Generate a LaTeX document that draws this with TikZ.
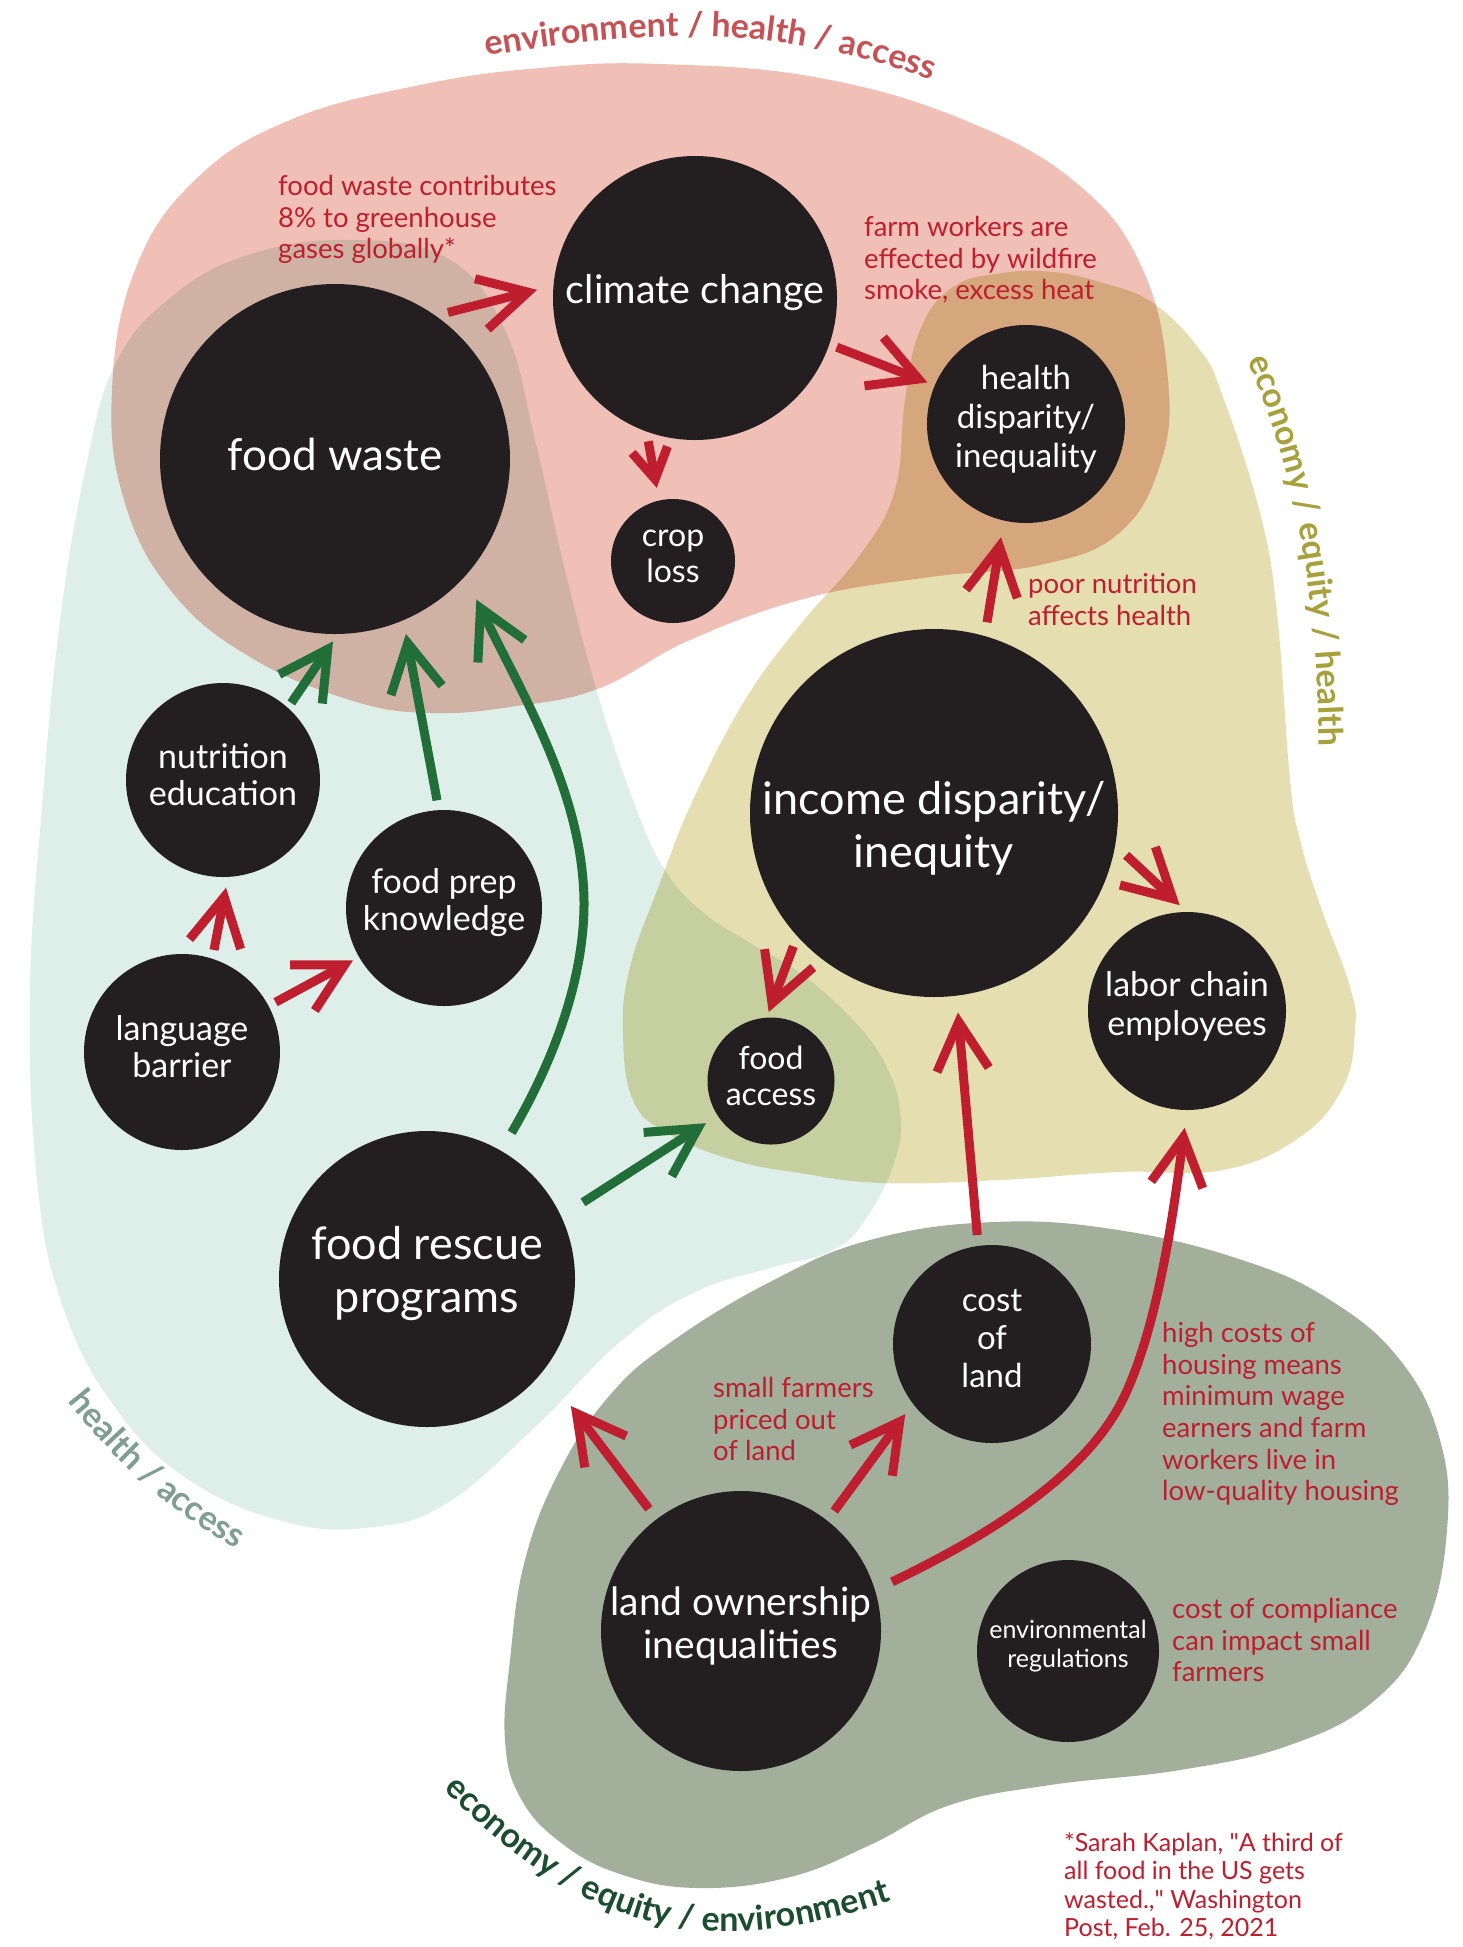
\documentclass[tikz,border=0pt]{standalone}
\usepackage{fontspec}
\setmainfont{Lato}
\usetikzlibrary{arrows.meta,decorations.text}

\definecolor{ink}{HTML}{231F20}
\definecolor{arrowred}{HTML}{BE1E2D}
\definecolor{arrowgreen}{HTML}{216E39}
\definecolor{blobpink}{HTML}{F0BFB5}
\definecolor{blobteal}{HTML}{DEEEE9}
\definecolor{blobyellow}{HTML}{E4DEB0}
\definecolor{blobgreen}{HTML}{A1AF9B}
\definecolor{titlered}{HTML}{C55254}
\definecolor{titleolive}{HTML}{A8A03A}
\definecolor{titleteal}{HTML}{7E9E93}
\definecolor{titlegreen}{HTML}{1B4D2E}

\newcommand{\notefont}{\fontsize{27.5}{31.7}\selectfont}
\newcommand{\footfont}{\fontsize{25}{28.5}\selectfont}
\newcommand{\titlefont}{\fontsize{34}{40}\selectfont\bfseries}

\begin{document}
\begin{tikzpicture}[x=1pt, y=-1pt]
	% Define styles for the bubbles, notes and arrows
	\tikzset{
		bubble/.style={circle, fill=ink, inner sep=0pt, outer sep=0pt, minimum size=#1},
		inlabel/.style 2 args={text=white, align=center, font=\fontsize{#1}{#2}\selectfont, yshift=5pt},
		note/.style={text=arrowred, align=left, anchor=north west, inner sep=0pt, font=\notefont},
		redlink/.style={draw=arrowred, line width=9pt, -{Straight Barb[sharp, length=48pt, width=52pt]}},
		greenlink/.style={redlink, draw=arrowgreen},
	}

	% Page size and background
	\useasboundingbox (0,0) rectangle (1463,1947);
	\fill[white] (0,0) rectangle (1463,1947);

	% Draw the four theme regions
	\begin{scope}[blend mode=multiply]
		\fill[blobteal] plot[smooth cycle, tension=0.7] coordinates {(348,240) (447,258) (505,330) (535,440) (565,570) (598,695) (633,800) (663,867) (700,910) (750,943) (800,973) (850,1017) (883,1060) (900,1110) (895,1160) (867,1217) (833,1250) (770,1268) (695,1292) (621,1341) (534,1428) (447,1503) (373,1527) (286,1522) (186,1478) (112,1403) (62,1304) (37,1180) (30,994) (42,807) (60,621) (85,472) (115,365) (170,298) (248,255)};
		\fill[blobpink] plot[smooth cycle, tension=0.7] coordinates {(660,64) (820,78) (969,122) (1080,186) (1143,270) (1168,380) (1160,465) (1118,534) (1040,565) (930,577) (807,598) (690,640) (600,688) (517,706) (430,713) (350,700) (250,657) (172,592) (124,500) (112,390) (135,270) (195,180) (290,120) (420,85) (540,68)};
		\fill[blobyellow] plot[smooth cycle, tension=0.7] coordinates {(920,330) (953,287) (1003,273) (1053,272) (1103,283) (1153,303) (1200,350) (1223,397) (1260,513) (1277,613) (1290,780) (1300,840) (1320,905) (1350,987) (1355,1030) (1343,1087) (1300,1137) (1223,1170) (1118,1172) (1000,1180) (883,1183) (800,1173) (733,1160) (667,1133) (633,1100) (623,1033) (630,967) (660,883) (693,800) (745,700) (800,625) (860,555) (895,490) (905,400)};
		\fill[blobgreen] plot[smooth cycle, tension=0.7] coordinates {(994,1222) (1118,1230) (1242,1260) (1330,1300) (1400,1360) (1440,1440) (1447,1530) (1425,1630) (1375,1700) (1290,1745) (1180,1770) (1050,1785) (950,1805) (870,1845) (790,1877) (698,1888) (620,1874) (560,1842) (520,1797) (505,1740) (510,1660) (525,1560) (560,1470) (610,1395) (671,1342) (770,1282) (870,1240)};
	\end{scope}

	% Region titles along curved paths
	\path[decorate, decoration={text along path, text align=center, text color=titlered,
		text={|\titlefont|environment / health / access}}]
		(462,60) .. controls (650,28) and (770,20) .. (955,88);
	\path[decorate, decoration={text along path, text align=center, text color=titleolive,
		text={|\titlefont|economy / equity / health}}]
		(1234,330) .. controls (1290,450) and (1318,560) .. (1320,780);
	\path[decorate, decoration={text along path, text align=center, text color=titleteal,
		text={|\titlefont|health / access}}]
		(50,1378) .. controls (108,1457) and (172,1518) .. (262,1562);
	\path[decorate, decoration={text along path, text align=center, text color=titlegreen,
		text={|\titlefont|economy / equity / environment}}]
		(426,1772) .. controls (590,1944) and (717,1963) .. (915,1893);

	% Draw the bubbles
	\node[bubble=350pt, label={[inlabel={44}{54}]center:food waste}] (fw) at (335,459) {};
	\node[bubble=284pt, label={[inlabel={39.5}{46}]center:climate change}] (cc) at (695,298) {};
	\node[bubble=124pt, label={[inlabel={32}{36}]center:crop\\loss}] (crop) at (673,561) {};
	\node[bubble=198pt, label={[inlabel={33}{39}]center:health\\disparity/\\inequality}] (hd) at (1026,424) {};
	\node[bubble=194pt, label={[inlabel={34}{37}]center:nutrition\\education}] (ne) at (223,780) {};
	\node[bubble=196pt, label={[inlabel={34}{37}]center:food prep\\knowledge}] (fp) at (444,908) {};
	\node[bubble=196pt, label={[inlabel={34}{37}]center:language\\barrier}] (lb) at (182,1052) {};
	\node[bubble=368pt, label={[inlabel={45}{53}, yshift=-20pt]center:income disparity/\\inequity}] (inc) at (934,813) {};
	\node[bubble=127pt, label={[inlabel={32}{36}]center:food\\access}] (fa) at (771,1081) {};
	\node[bubble=198pt, label={[inlabel={34}{39}]center:labor chain\\employees}] (lab) at (1187,1011) {};
	\node[bubble=296pt, label={[inlabel={45}{53}]center:food rescue\\programs}] (fr) at (427,1279) {};
	\node[bubble=198pt, label={[inlabel={33}{38}]center:cost\\of\\land}] (col) at (992,1344) {};
	\node[bubble=280pt, label={[inlabel={39}{43}]center:land ownership\\inequalities}] (lo) at (741,1631) {};
	\node[bubble=182pt, label={[inlabel={25}{28.6}]center:environmental\\regulations}] (env) at (1068,1651) {};

	% Red arrows
	\draw[redlink, shorten <=13pt, shorten >=17pt] (fw.55) -- (cc.175);
	\draw[redlink, shorten <=10pt, shorten >=13pt, -{Straight Barb[sharp, length=30pt, width=36pt]}] (cc.-110) -- (crop.103);
	\draw[redlink, shorten <=8pt, shorten >=8pt] (cc.-19) -- (hd.157);
	\draw[redlink, shorten <=14pt, shorten >=17pt] (inc.74) -- (hd.-103);
	\draw[redlink, shorten <=15pt, shorten >=10pt] (inc.-10) -- (lab.90);
	\draw[redlink, shorten <=11pt, shorten >=6pt] (inc.-138) -- (fa.94);
	\draw[redlink, shorten <=11pt, shorten >=17pt] (col.98) -- (inc.-83);
	\draw[redlink, shorten <=19pt, shorten >=18pt] (lo.17) .. controls (1000,1530) and (1090,1470) .. (1125,1395)
		.. controls (1160,1320) and (1175,1200) .. (lab.-90);
	\draw[redlink, shorten <=12pt, shorten >=13pt] (lo.52) -- (col.-143);
	\draw[redlink, shorten <=13pt, shorten >=45pt] (lo.127) -- (fr.-38);
	\draw[redlink, shorten <=9pt, shorten >=11pt] (lb.72) -- (ne.-87);
	\draw[redlink, shorten <=8pt, shorten >=7pt] (lb.28) -- (fp.-150);

	% Green arrows
	\draw[greenlink, shorten <=6pt, shorten >=9pt] (ne.48) -- (fw.-89);
	\draw[greenlink, shorten <=10pt, shorten >=14pt] (fp.93) -- (fw.-67);
	\draw[greenlink, shorten <=21pt, shorten >=26pt] (fr.60) .. controls (560,1050) and (590,960) .. (583,880)
		.. controls (575,780) and (520,690) .. (fw.-42);
	\draw[greenlink, shorten <=26pt, shorten >=14pt] (fr.25) -- (fa.-147);

	% Notes
	\node[note] (wastenote) at (278,175) {food waste contributes\\8\% to greenhouse\\gases globally*};
	\node[note] (farmnote) at (864,216) {farm workers are\\effected by wildfire\\smoke, excess heat};
	\node[note] (poornote) at (1028,573) {poor nutrition\\affects health};
	\node[note] (smallnote) at (713,1377) {small farmers\\priced out\\of land};
	\node[note] (housenote) at (1162,1322) {high costs of\\housing means\\minimum wage\\earners and farm\\workers live in\\low-quality housing};
	\node[note] (compnote) at (1172,1598) {cost of compliance\\can impact small\\farmers};
	\node[note, font=\footfont] (source) at (1064,1832) {*Sarah Kaplan, \textquotedbl A third of\\all food in the US gets\\wasted.,\textquotedbl{} Washington\\Post, Feb. 25, 2021};
\end{tikzpicture}
\end{document}
